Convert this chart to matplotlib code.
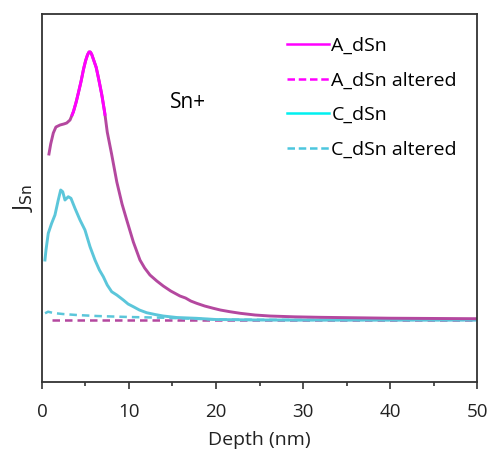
import numpy as np
import matplotlib
matplotlib.use("Agg")
import matplotlib.pyplot as plt
from matplotlib.lines import Line2D

plt.rcParams["font.family"] = ["Open Sans", "DejaVu Sans"]

# depth (nm) and signal (arbitrary units)
a_depth = [0.8, 1.0, 1.3, 1.6, 2.07, 2.5, 2.84, 3.22, 3.6, 3.9, 4.18, 4.5,
           4.75, 5.0, 5.22, 5.4, 5.55, 5.7, 5.9, 6.22, 6.47, 6.86, 7.2, 7.5,
           8.0, 8.6, 9.2, 9.74, 10.5, 11.26, 11.8, 12.41, 13.2, 13.94, 14.8,
           15.86, 16.5, 17.1, 17.78, 18.7, 19.7, 20.5, 21.6, 22.8, 24.5, 26.2,
           29, 32, 40, 50]
a_sn = [228, 238, 249, 255, 257, 258, 259, 262, 270, 279, 289, 301,
        312, 321, 327, 330, 330, 328, 323, 315, 305, 288, 270, 250,
        228, 200, 178, 162, 140, 122, 114, 107, 101, 96, 91,
        86, 84, 81, 78.7, 76, 73.7, 72, 70.3, 68.7, 67, 66,
        65.2, 64.7, 63.8, 63.3]

c_depth = [0.34, 0.46, 0.72, 1.11, 1.49, 1.87, 2.15, 2.38, 2.64, 3.02, 3.33,
           3.79, 4.37, 4.94, 5.52, 6.09, 6.6, 7.05, 7.5, 8.01, 8.6, 9.35, 9.9,
           10.5, 11.2, 12.03, 13, 13.94, 15.5, 17.78, 20, 25, 50]
c_sn = [122, 132, 148.7, 158.7, 167, 182, 192, 190.3, 182, 185.3, 183.7,
        173.7, 162, 152, 135.3, 122, 112, 105.3, 97, 90.3, 87, 82, 78,
        75.3, 72, 69.3, 67.5, 66, 64.5, 63.7, 62.5, 62, 62]

a_alt_depth = [1.2, 10, 20, 30, 40, 50]
a_alt_sn = [62, 62, 62, 62, 62, 62]

c_alt_depth = [0.35, 0.7, 1.3, 2.4, 4, 6.3, 10, 14, 20, 30, 50]
c_alt_sn = [68.7, 70.3, 69, 68, 67, 66, 65, 64.3, 62.5, 62, 62]

purple = "#b4489f"
magenta = "#ff00ff"
blue = "#5bc6da"

fig = plt.figure(figsize=(4.9, 4.55), dpi=100)
ax = fig.add_axes([0.0857, 0.1604, 0.8878, 0.8088])

ax.plot(a_alt_depth, a_alt_sn, color=purple, lw=1.8, ls=(0, (3, 2)))
ax.plot(c_alt_depth, c_alt_sn, color=blue, lw=1.8, ls=(0, (3, 2)))
ax.plot(c_depth, c_sn, color=blue, lw=2.1)
ax.plot(a_depth, a_sn, color=purple, lw=2.1)

# peak part of A_dSn shows in bright magenta
xs = np.linspace(a_depth[0], a_depth[-1], 4000)
ys = np.interp(xs, a_depth, a_sn)
ax.plot(xs, np.where(ys > 267, ys, np.nan), color=magenta, lw=2.1)

ax.set_xlim(0, 50)
ax.set_ylim(0, 368)
ax.set_yticks([])
ax.set_xticks(range(0, 51, 10))
ax.set_xticks(range(5, 50, 10), minor=True)
ax.tick_params(axis="x", which="major", direction="out", length=5, width=1.2,
               labelsize=13.5, pad=10, colors="#333333", labelcolor="#222222")
ax.tick_params(axis="x", which="minor", direction="out", length=3, width=1.2,
               colors="#333333")
for s in ax.spines.values():
    s.set_linewidth(1.3)
    s.set_color("#333333")

ax.set_xlabel("Depth (nm)", fontsize=14, labelpad=7, color="#222222")
ax.set_ylabel(r"J$_{\mathrm{Sn}}$", fontsize=16, labelpad=5, color="#222222")

ax.text(0.335, 0.76, "Sn+", transform=ax.transAxes, fontsize=15,
        ha="center", va="center")

handles = [
    Line2D([], [], color=magenta, lw=1.8),
    Line2D([], [], color=magenta, lw=1.8, ls=(0, (3, 1.5))),
    Line2D([], [], color="#00f0f0", lw=1.8),
    Line2D([], [], color="#4cc6de", lw=1.8, ls=(0, (3, 1.5))),
]
labels = ["A_dSn", "A_dSn altered", "C_dSn", "C_dSn altered"]
ax.legend(handles, labels, loc="upper left", bbox_to_anchor=(0.522, 0.986),
          frameon=False, fontsize=14, handlelength=2.2, handletextpad=0.1,
          labelspacing=0.86)

fig.savefig("out.png", dpi=100)
